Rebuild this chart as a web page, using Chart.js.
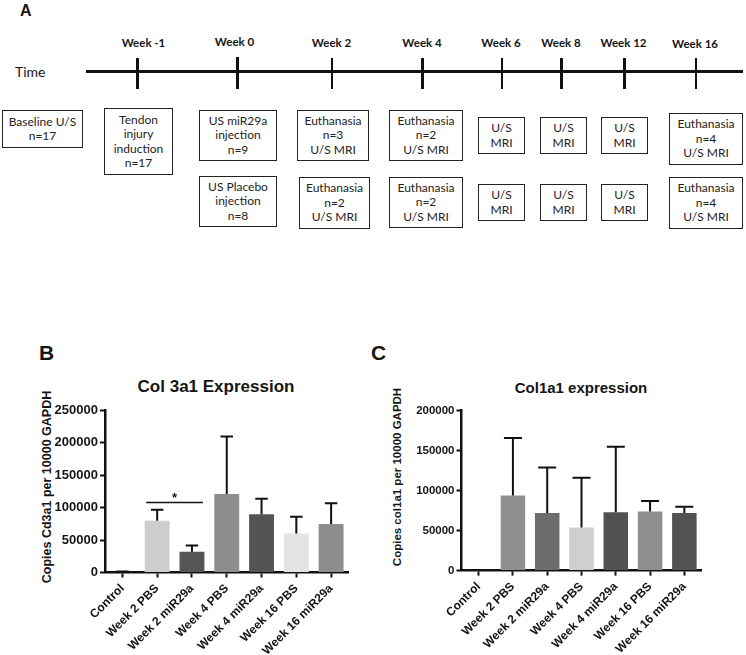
<!DOCTYPE html>
<html>
<head>
<meta charset="utf-8">
<script src="https://cdn.jsdelivr.net/npm/chart.js@4.4.1/dist/chart.umd.min.js"></script>
<style>
  body { margin: 0; width: 746px; height: 655px; background: #fff; position: relative; overflow: hidden; color: #151515; }
  .lbl { position: absolute; font-family: 'Liberation Sans', Arial, sans-serif; font-weight: bold; white-space: nowrap; line-height: 1; }
  .wk { position: absolute; font: bold 11.5px Lato, sans-serif; white-space: nowrap; transform: translateX(-50%); line-height: 1; }
  .box { position: absolute; box-sizing: border-box; border: 1.5px solid #222; display: flex; flex-direction: column;
         justify-content: center; align-items: center; text-align: center; font: 12px Lato, sans-serif; line-height: 14.5px; color: #222; }
  .tick { position: absolute; width: 2.5px; background: #111; }
  canvas { position: absolute; }
  .ytitle { position: absolute; font-family: 'Liberation Sans', Arial, sans-serif; font-weight: bold; white-space: nowrap;
            transform: translate(-50%, -50%) rotate(-90deg); line-height: 1; }
</style>
</head>
<body>
<div class="lbl" style="left:20px; top:3px; font-size:16px;">A</div>
<div class="lbl" style="left:15px; top:63px; font: 14px Lato, sans-serif;">Time</div>
<div id="timeline"></div>

<div class="lbl" style="left:39px; top:342px; font-size:21px;">B</div>
<div class="lbl" style="left:371px; top:342px; font-size:21px;">C</div>
<div class="lbl" style="left:216px; top:378px; font-size:17px; transform:translateX(-50%);">Col 3a1 Expression</div>
<div class="lbl" style="left:581px; top:380px; font-size:15px; transform:translateX(-50%);">Col1a1 expression</div>
<div class="ytitle" style="left:47px; top:487px; font-size:12.5px;">Copies Cd3a1 per 10000 GAPDH</div>
<div class="ytitle" style="left:398px; top:477px; font-size:11.5px;">Copies col1a1 per 10000 GAPDH</div>

<canvas id="col3" width="372" height="260" style="left:0; top:395px;"></canvas>
<canvas id="col1" width="374" height="260" style="left:372px; top:395px;"></canvas>

<script>
// timeline (panel A)
const weeks = ["Week -1", "Week 0", "Week 2", "Week 4", "Week 6", "Week 8", "Week 12", "Week 16"];
const boxText = [
  ["Baseline U/S", "n=17"],
  ["Tendon", "injury", "induction", "n=17"],
  ["US miR29a", "injection", "n=9"],
  ["US Placebo", "injection", "n=8"],
  ["Euthanasia", "n=3", "U/S MRI"],
  ["Euthanasia", "n=2", "U/S MRI"],
  ["Euthanasia", "n=2", "U/S MRI"],
  ["Euthanasia", "n=2", "U/S MRI"],
  ["U/S", "MRI"], ["U/S", "MRI"],
  ["U/S", "MRI"], ["U/S", "MRI"],
  ["U/S", "MRI"], ["U/S", "MRI"],
  ["Euthanasia", "n=4", "U/S MRI"],
  ["Euthanasia", "n=4", "U/S MRI"]
];

// bar charts (panels B and C)
const groups = ["Control", "Week 2 PBS", "Week 2 miR29a", "Week 4 PBS", "Week 4 miR29a", "Week 16 PBS", "Week 16 miR29a"];
const col3Mean = [1200, 80000, 32000, 121000, 90000, 60000, 75000];
const col3Sd   = [400, 17000, 9500, 89000, 24000, 26000, 32000];
const col1Mean = [400, 94000, 72000, 54000, 73000, 74000, 72000];
const col1Sd   = [0, 72000, 57000, 62000, 82000, 13000, 8000];
const col3Max = 250000;
const col1Max = 200000;
const tickStep = 50000;

// layout of the diagram
const tickX  = [137.5, 237.5, 332, 422.5, 502, 561.5, 624.5, 696];
const labelX = [143.5, 234.5, 331.5, 422, 501, 561, 623.5, 695];
const boxPos = [
  [2, 110, 81, 38], [104, 108, 69, 67], [199, 110, 78, 51], [199, 176, 78, 51],
  [297, 110, 72, 51], [299, 177, 71, 52], [389, 110, 74, 51], [389, 177, 74, 51],
  [478, 117, 47, 37], [478, 184, 47, 37], [540, 117, 47, 37], [540, 184, 47, 37],
  [601, 117, 47, 37], [601, 184, 47, 37], [669, 113, 74, 52], [669, 177, 74, 52]
];

const tl = document.getElementById('timeline');
let html = '<div style="position:absolute;left:86px;top:70px;width:657px;height:3px;background:#111"></div>';
weeks.forEach((w, i) => {
  html += `<div class="tick" style="left:${tickX[i] - 1.25}px;top:${i === 1 ? 57 : 58}px;height:${i === 1 ? 32 : 31}px"></div>`;
  html += `<div class="wk" style="left:${labelX[i]}px;top:${i === 1 ? 36 : (i === 7 ? 38 : 37)}px">${w}</div>`;
});
boxText.forEach((lines, i) => {
  const [x, y, w, h] = boxPos[i];
  html += `<div class="box" style="left:${x}px;top:${y}px;width:${w}px;height:${h}px">${lines.map(t => `<div>${t}</div>`).join('')}</div>`;
});
tl.innerHTML = html;

const errorBars = {
  id: 'errorBars',
  afterDatasetsDraw(chart, args, opts) {
    const ctx = chart.ctx;
    const y = chart.scales.y;
    const ds = chart.data.datasets[0];
    const meta = chart.getDatasetMeta(0);
    ctx.save();
    ctx.strokeStyle = '#111';
    ctx.lineWidth = 2;
    meta.data.forEach((bar, i) => {
      const sd = ds.errors[i];
      if (!sd) return;
      const y0 = y.getPixelForValue(ds.data[i]);
      const y1 = y.getPixelForValue(ds.data[i] + sd);
      ctx.beginPath();
      ctx.moveTo(bar.x, y0);
      ctx.lineTo(bar.x, y1);
      ctx.moveTo(bar.x - opts.cap / 2, y1);
      ctx.lineTo(bar.x + opts.cap / 2, y1);
      ctx.stroke();
    });
    if (opts.sig) {
      const a = meta.data[opts.sig.from].x - 11;
      const b = meta.data[opts.sig.to].x + 11;
      const sy = y.getPixelForValue(opts.sig.value);
      ctx.lineWidth = 1.5;
      ctx.beginPath();
      ctx.moveTo(a, sy);
      ctx.lineTo(b, sy);
      ctx.stroke();
      ctx.fillStyle = '#111';
      ctx.font = 'bold 13px "Liberation Sans", Arial, sans-serif';
      ctx.textAlign = 'center';
      ctx.fillText('*', (a + b) / 2, sy - 1);
    }
    ctx.restore();
  }
};

function barChart(id, means, sds, colors, yMax, o) {
  return new Chart(id, {
    type: 'bar',
    data: {
      labels: groups,
      datasets: [{ data: means, errors: sds, backgroundColor: colors, barPercentage: 0.715, categoryPercentage: 1 }]
    },
    options: {
      responsive: false,
      animation: false,
      events: [],
      devicePixelRatio: 1,
      layout: { padding: { top: o.top, right: o.right, left: 0, bottom: 0 } },
      plugins: {
        legend: { display: false },
        tooltip: { enabled: false },
        errorBars: { cap: o.cap, sig: o.sig }
      },
      scales: {
        x: {
          afterFit: s => { s.height = o.xh; },
          grid: { offset: false, drawOnChartArea: false, drawTicks: true, tickLength: 5, tickWidth: 2, tickColor: '#111' },
          border: { display: true, width: 2.5, color: '#111' },
          ticks: { autoSkip: false, minRotation: 45, maxRotation: 45, padding: 4, color: '#151515',
                   font: { family: "'Liberation Sans', Arial, sans-serif", weight: 'bold', size: o.xfont } }
        },
        y: {
          min: 0, max: yMax,
          afterFit: s => { s.width = o.yw; },
          grid: { drawOnChartArea: false, drawTicks: true, tickLength: 5, tickWidth: 2, tickColor: '#111' },
          border: { display: true, width: 2.5, color: '#111' },
          ticks: { stepSize: tickStep, padding: 2, color: '#151515', callback: v => String(v),
                   font: { family: "'Liberation Sans', Arial, sans-serif", weight: 'bold', size: o.yfont } }
        }
      }
    },
    plugins: [errorBars]
  });
}

barChart('col3', col3Mean, col3Sd,
  ['#333333', '#cdcdcd', '#555555', '#8d8d8d', '#545454', '#e4e4e4', '#8d8d8d'],
  col3Max,
  { top: 15.5, right: 23.5, yw: 105, xh: 82.5, xfont: 12, yfont: 13, cap: 12.5, sig: { from: 1, to: 2, value: 108000 } });

barChart('col1', col1Mean, col1Sd,
  ['#333333', '#8f8f8f', '#6d6d6d', '#cfcfcf', '#515151', '#8f8f8f', '#525252'],
  col1Max,
  { top: 15.7, right: 44.5, yw: 89.5, xh: 84.4, xfont: 12, yfont: 11.5, cap: 18, sig: null });
</script>
</body>
</html>
